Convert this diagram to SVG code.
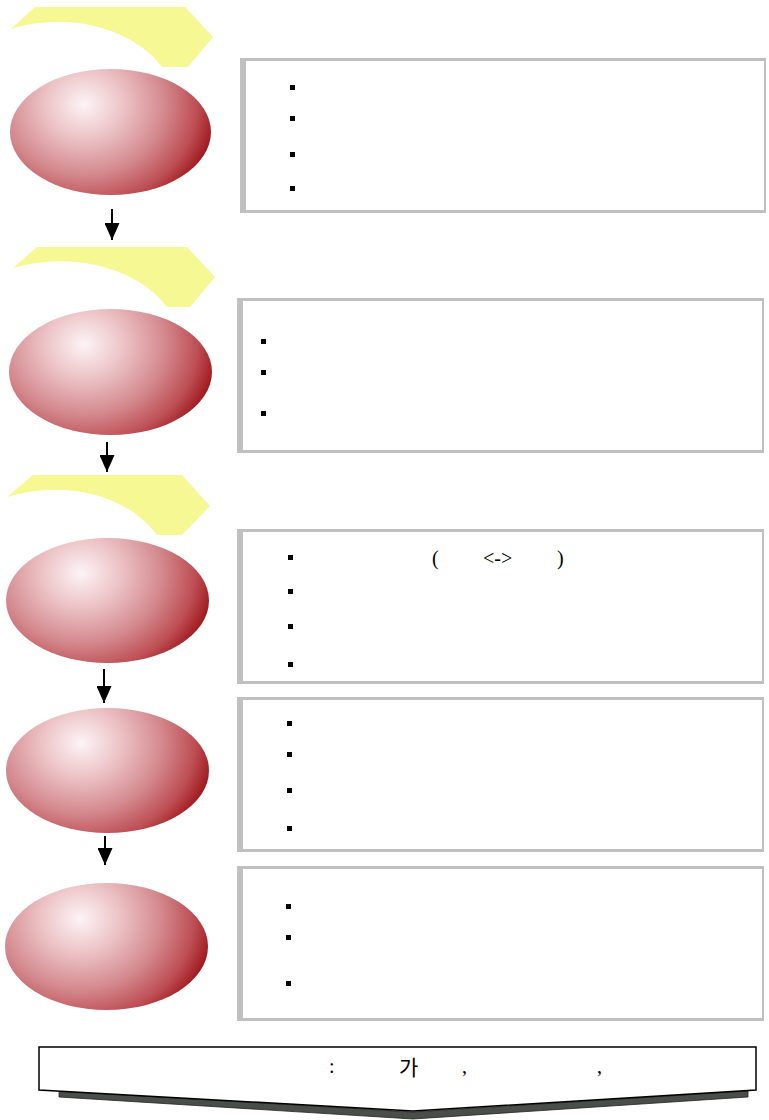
<svg xmlns="http://www.w3.org/2000/svg" width="769" height="1120" viewBox="0 0 769 1120">
<style>
.tab{fill:#f6f894;}
.ball{fill:url(#rg);}
.frame{fill:#c0c0c0;}
.inner{fill:#ffffff;}
.bul{fill:#000000;}
.conn{stroke:#000;stroke-width:2;fill:none;marker-end:url(#ah);}
.t{font-family:"Liberation Serif","Noto Sans CJK KR",serif;font-size:20px;fill:#000;}
.tk{font-family:"Noto Sans CJK KR","Liberation Sans",sans-serif;font-size:21px;fill:#000;}
</style>
<defs>
<radialGradient id="rg" cx="0.37" cy="0.28" fx="0.37" fy="0.28" r="0.66" gradientTransform="translate(0.37,0.28) scale(1,1.4) translate(-0.37,-0.28)">
<stop offset="0" stop-color="#fdf4f6"/>
<stop offset="0.3" stop-color="#ecc2c5"/>
<stop offset="0.6" stop-color="#d48a8f"/>
<stop offset="0.85" stop-color="#bd4e54"/>
<stop offset="1" stop-color="#a01a1e"/>
</radialGradient>
<marker id="ah" markerWidth="17" markerHeight="15" refX="17" refY="7.5" orient="auto" markerUnits="userSpaceOnUse" viewBox="0 0 17 15">
<path d="M0,0 L17,7.5 L0,15 Z" fill="#000"/>
</marker>
</defs>

<g id="tab1"><path class="tab" d="M35,7 L185,7 L213,37 L188,67 L162,67 C135,30 70,10 11,29 Z"/></g>
<g id="tab2"><path class="tab" d="M37,247 L187,247 L215,277 L190,307 L167,307 C140,270 75,250 13,268 Z"/></g>
<g id="tab3"><path class="tab" d="M33,475 L182,475 L210,506 L182,535 L157,535 C130,498 70,478 7,497 Z"/></g>

<g id="ball1"><ellipse class="ball" cx="110.5" cy="132" rx="100.5" ry="63"/></g>
<g id="ball2"><ellipse class="ball" cx="110.5" cy="372" rx="101.5" ry="63"/></g>
<g id="ball3"><ellipse class="ball" cx="107.5" cy="600.5" rx="101.5" ry="62.5"/></g>
<g id="ball4"><ellipse class="ball" cx="107.5" cy="770.5" rx="101.5" ry="62.5"/></g>
<g id="ball5"><ellipse class="ball" cx="106.5" cy="946.5" rx="101.5" ry="63.5"/></g>

<g id="box1">
<rect class="frame" x="240" y="58" width="526" height="155"/>
<rect class="inner" x="246" y="61" width="518" height="149"/>
<rect class="bul" x="290" y="85" width="5" height="5"/>
<rect class="bul" x="290" y="116" width="5" height="5"/>
<rect class="bul" x="290" y="152" width="5" height="5"/>
<rect class="bul" x="290" y="186" width="5" height="5"/>
</g>
<g id="box2">
<rect class="frame" x="237" y="298" width="527" height="155"/>
<rect class="inner" x="243" y="301" width="519" height="149"/>
<rect class="bul" x="261" y="339" width="5" height="5"/>
<rect class="bul" x="261" y="370" width="5" height="5"/>
<rect class="bul" x="261" y="411" width="5" height="5"/>
</g>
<g id="box3">
<rect class="frame" x="237" y="529" width="527" height="155"/>
<rect class="inner" x="243" y="532" width="519" height="149"/>
<rect class="bul" x="288" y="555" width="5" height="5"/>
<rect class="bul" x="288" y="589" width="5" height="5"/>
<rect class="bul" x="288" y="624" width="5" height="5"/>
<rect class="bul" x="288" y="662" width="5" height="5"/>
<text class="t" x="432" y="565">(</text>
<text class="t" x="483" y="565">&lt;-&gt;</text>
<text class="t" x="557" y="565">)</text>
</g>
<g id="box4">
<rect class="frame" x="237" y="697" width="527" height="155"/>
<rect class="inner" x="243" y="700" width="519" height="149"/>
<rect class="bul" x="287" y="721" width="5" height="5"/>
<rect class="bul" x="287" y="752" width="5" height="5"/>
<rect class="bul" x="287" y="788" width="5" height="5"/>
<rect class="bul" x="287" y="826" width="5" height="5"/>
</g>
<g id="box5">
<rect class="frame" x="237" y="866" width="527" height="155"/>
<rect class="inner" x="243" y="869" width="519" height="149"/>
<rect class="bul" x="286" y="904" width="5" height="5"/>
<rect class="bul" x="286" y="935" width="5" height="5"/>
<rect class="bul" x="286" y="981" width="5" height="5"/>
</g>

<g id="summary">
<polygon points="59,1091 413,1112 748,1091 748,1097 413,1119 59,1097" fill="#4a4e4a" stroke="#222" stroke-width="0.8"/>
<polygon points="39,1047 756,1047 756,1090 413,1111 39,1090" fill="#fff" stroke="#000" stroke-width="1.5"/>
<text class="t" x="329" y="1073">:</text>
<text class="tk" x="399" y="1075">가</text>
<text class="t" x="462" y="1073">,</text>
<text class="t" x="597" y="1073">,</text>
</g>

<g id="connectors">
<line class="conn" x1="112" y1="209" x2="112" y2="240"/>
<line class="conn" x1="107" y1="442" x2="107" y2="472"/>
<line class="conn" x1="104" y1="669" x2="104" y2="703"/>
<line class="conn" x1="105" y1="836" x2="105" y2="865"/>
</g>
</svg>
